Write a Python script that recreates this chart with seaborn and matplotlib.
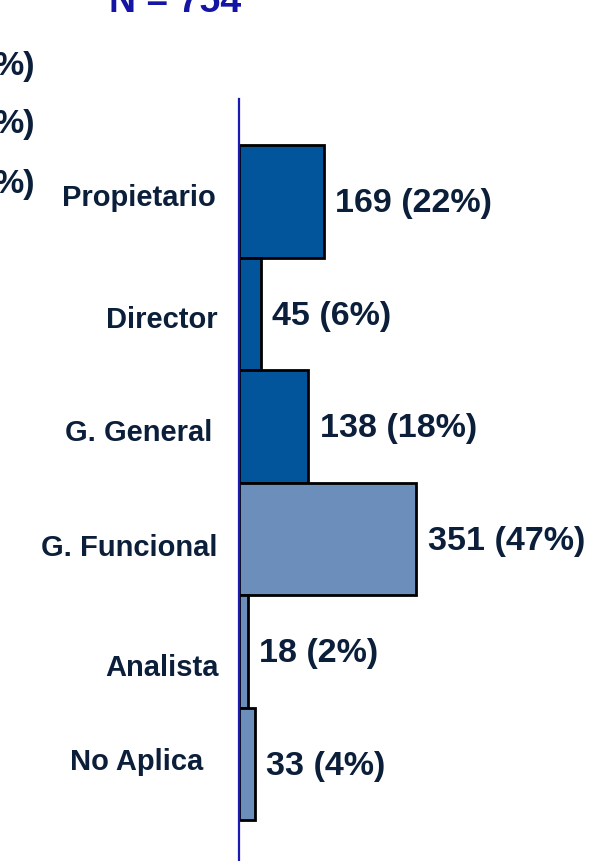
"""
Cargo del encuestado – horizontal bars, N = 754
"""
import matplotlib
matplotlib.use("Agg")
import matplotlib.pyplot as plt
import pandas as pd
import seaborn as sns

# ── data ────────────────────────────────────────────────────────────────────
cargos   = ["Propietario", "Director", "G. General", "G. Funcional", "Analista", "No Aplica"]
counts   = [169, 45, 138, 351, 18, 33]
percents = [22, 6, 18, 47, 2, 4]
grupos   = ["alta", "alta", "alta", "media", "media", "media"]
titulo   = "N = 754"

# ── style ───────────────────────────────────────────────────────────────────
sns.set_style("white")
plt.rcParams["font.family"] = ["Liberation Sans", "DejaVu Sans"]
plt.rcParams["font.weight"] = "bold"

TEXT  = "#0b1f3a"
DARK  = "#03559b"
LIGHT = "#6c8eba"
AXIS  = "#1a1ab0"

W, H, DPI = 589, 862, 100
fig = plt.figure(figsize=(W / DPI, H / DPI), dpi=DPI)

x0 = 238.5
ax = fig.add_axes([x0 / W, 0, 1 - x0 / W, 1 - 100 / H])

df = pd.DataFrame({"cargo": cargos, "n": counts, "grupo": grupos})
sns.barplot(data=df, x="n", y="cargo", hue="grupo",
            palette={"alta": DARK, "media": LIGHT}, saturation=1,
            width=1.0, dodge=False, edgecolor="black", linewidth=2,
            legend=False, ax=ax)

ax.set_xlim(0, (W - x0) / 0.507)
ax.set_ylim(5.864, -0.909)

for s in ["top", "right", "bottom"]:
    ax.spines[s].set_visible(False)
ax.spines["left"].set_color(AXIS)
ax.spines["left"].set_linewidth(1.6)
ax.spines["left"].set_zorder(5)

ax.set_xticks([])
ax.set_yticks([])
ax.set_xlabel("")
ax.set_ylabel("")

# category labels left of the axis (small hand nudges, in pixels, as in the original slide)
gap_px  = [23, 21, 26, 21, 20, 35]
lift_px = [4, -5, -6, -8, -16, 3]
for i, name in enumerate(cargos):
    ax.annotate(name, xy=(0, i), xytext=(-gap_px[i] * 72 / DPI, lift_px[i] * 72 / DPI),
                textcoords="offset points", ha="right", va="center",
                fontsize=21, fontweight="bold", color=TEXT, annotation_clip=False)

for i, (v, p) in enumerate(zip(counts, percents)):
    ax.annotate(f"{v} ({p}%)", xy=(v, i), xytext=(8, -1), textcoords="offset points",
                ha="left", va="center", fontsize=24.5, fontweight="bold", color=TEXT)

# title, cut by the top edge
fig.text(175 / W, 1 - 12 / H, titulo, ha="center", va="baseline",
         fontsize=27, fontweight="bold", color="#1515a5")

# fragments of the neighbouring chart, cut by the left edge
for yy in [67, 125, 185]:
    fig.text(35 / W, 1 - yy / H, "%)", ha="right", va="center",
             fontsize=24.5, fontweight="bold", color=TEXT)

fig.savefig("out.png", dpi=DPI)
